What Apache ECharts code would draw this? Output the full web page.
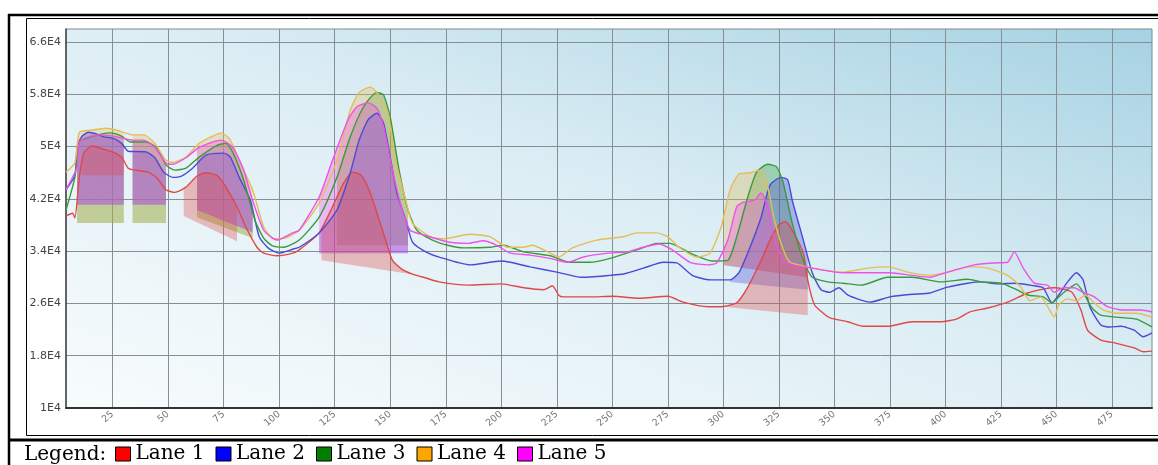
<!DOCTYPE html>
<html>
<head>
<meta charset="utf-8">
<script src="https://cdn.jsdelivr.net/npm/echarts@6/dist/echarts.min.js"></script>
<style>
html, body { margin: 0; padding: 0; background: #fff; }
#box { width: 1158px; height: 465px; }
</style>
</head>
<body>
<div id="box"></div>
<script>
var lanes = ['Lane 1', 'Lane 2', 'Lane 3', 'Lane 4', 'Lane 5'];
var lineColors = ['#e04848', '#4a4ad6', '#3a9a3a', '#e6bc58', '#ee52e6'];
var legendColors = ['#ff0000', '#0000ff', '#008000', '#ffa500', '#ff00ff'];

var xTicks = [25, 50, 75, 100, 125, 150, 175, 200, 225, 250, 275, 300, 325, 350, 375, 400, 425, 450, 475];
var yTicks = [10000, 18000, 26000, 34000, 42000, 50000, 58000, 66000];

var lane1 = [[4,39400],[7,39800],[8,39100],[10,45300],[12,49000],[16,50100],[21,49600],[25,49200],[29,48400],[32,46700],[35,46400],[41,46100],[45,45200],[49,43400],[53,43000],[58,43800],[63,45500],[67,46000],[72,45600],[76,43800],[81,40800],[85,37700],[90,34600],[93,33700],[99,33300],[106,33700],[109,34200],[118,36800],[124,40800],[129,44400],[133,46100],[137,45600],[141,42900],[145,38800],[148,35600],[151,32600],[155,31300],[160,30500],[166,29900],[172,29300],[185,28800],[200,29000],[210,28400],[219,28100],[223,28700],[226,27200],[228,27000],[240,27000],[250,27100],[262,26800],[275,27100],[282,26200],[293,25500],[299,25500],[306,26100],[311,28500],[317,32600],[321,35700],[325,38000],[328,38500],[331,37200],[336,33700],[338,29500],[341,25800],[345,24500],[348,23800],[356,23200],[363,22500],[374,22500],[385,23200],[398,23200],[405,23600],[411,24700],[419,25300],[428,26200],[437,27600],[444,28200],[449,28400],[453,28200],[457,27700],[461,25000],[464,21900],[470,20400],[477,19900],[485,19200],[489,18600],[493,18700]];

var lane2 = [[4,43400],[8,45600],[9,49900],[11,51500],[14,52200],[18,51900],[21,51500],[25,51300],[29,50500],[32,49300],[40,49200],[44,48300],[48,46100],[52,45300],[56,45500],[61,46700],[67,48700],[75,49000],[78,48400],[82,45300],[87,41800],[91,36200],[95,34500],[100,33700],[106,34300],[109,34600],[118,36800],[126,40300],[132,46000],[136,51000],[140,54100],[144,55100],[147,53600],[150,48400],[153,42900],[157,38800],[160,35400],[166,33900],[172,33100],[186,31900],[200,32500],[204,32300],[213,31600],[225,30800],[236,30000],[249,30300],[255,30500],[264,31400],[273,32300],[279,32200],[286,30300],[294,29600],[303,29600],[307,30700],[312,34600],[317,39200],[321,44100],[326,45300],[329,44900],[331,41800],[336,35700],[340,30700],[344,28100],[348,27700],[352,28400],[356,27300],[362,26500],[366,26200],[375,27000],[385,27400],[393,27600],[401,28500],[410,29100],[416,29300],[423,29000],[431,29100],[440,28700],[444,28400],[448,26100],[451,27300],[455,29300],[459,30700],[462,29600],[465,25500],[470,22700],[474,22400],[479,22500],[485,21900],[489,20900],[493,21500]];

var lane3 = [[4,40300],[8,45300],[10,50700],[15,51500],[24,52100],[29,51600],[33,50700],[40,50700],[45,49800],[49,47200],[53,46400],[58,46700],[64,48400],[72,50200],[76,50500],[79,49200],[84,44900],[89,38800],[93,36000],[97,34800],[102,34600],[109,35700],[118,39200],[126,45300],[132,51500],[138,56100],[144,58300],[147,57900],[150,54500],[154,46400],[158,40300],[162,37200],[169,35700],[176,34900],[183,34500],[195,34600],[201,34900],[210,33900],[222,33300],[231,32300],[240,32300],[249,32900],[261,34200],[270,35200],[276,35200],[285,33700],[295,32500],[302,32600],[306,36200],[311,42300],[315,46100],[320,47300],[324,46900],[327,44400],[331,38300],[336,32600],[340,30000],[347,29300],[354,29100],[362,28800],[374,30000],[385,30000],[398,29300],[410,29700],[416,29300],[425,29100],[432,28100],[437,27300],[444,27000],[448,26100],[452,27300],[456,28400],[459,29000],[462,27700],[466,25300],[470,24200],[477,23900],[486,23600],[493,22400]];

var lane4 = [[4,46100],[8,47500],[10,52200],[15,52500],[22,52800],[27,52500],[34,51800],[39,51800],[44,50500],[49,47900],[52,47600],[58,48400],[64,50500],[70,51600],[74,52100],[78,51000],[82,47900],[88,43400],[93,37700],[97,36000],[101,35900],[109,37200],[118,41400],[126,47900],[132,55600],[136,58300],[141,59100],[144,58300],[149,55100],[152,48400],[157,41800],[160,38300],[168,36200],[174,35900],[186,36600],[195,36200],[203,34600],[210,34600],[214,34900],[222,33700],[226,33100],[232,34500],[243,35700],[255,36200],[261,36800],[270,36800],[275,36200],[280,34600],[288,33100],[294,33700],[299,37700],[303,43400],[307,45800],[312,46000],[317,46400],[320,43800],[323,38800],[327,34200],[330,32300],[338,31600],[345,31100],[354,30800],[365,31400],[374,31600],[383,30800],[393,30300],[401,30800],[411,31600],[419,31400],[428,30300],[434,28500],[438,26400],[443,27000],[446,25500],[449,23900],[451,25800],[455,26700],[459,26400],[463,27300],[467,26100],[471,25000],[477,24500],[486,24500],[493,23900]];

var lane5 = [[4,43400],[9,46900],[10,50700],[14,51500],[19,51800],[27,51500],[34,51000],[39,51000],[44,49900],[49,47500],[52,47300],[58,48300],[64,49900],[70,50700],[74,51000],[79,49900],[84,46400],[88,41800],[93,37200],[97,36000],[99,35700],[106,36800],[109,37200],[118,42300],[124,47900],[131,54100],[135,56100],[140,56700],[144,55900],[147,53000],[151,46400],[155,40800],[159,37200],[165,36500],[176,35400],[185,35200],[192,35600],[198,34900],[204,33700],[213,33400],[222,32900],[230,32300],[237,33100],[248,33700],[257,33900],[264,34600],[271,35100],[277,34200],[285,32300],[293,31900],[297,32200],[302,35700],[306,40800],[309,41500],[314,41800],[317,42900],[320,40800],[323,35700],[327,32600],[331,31900],[340,31400],[350,30800],[356,30700],[366,30700],[375,30700],[385,30300],[393,30000],[401,30800],[413,31900],[422,32200],[428,32300],[431,33900],[435,31400],[440,29100],[446,28800],[449,27700],[453,28400],[458,28400],[462,27700],[467,27000],[473,25500],[480,25000],[488,25000],[493,24700]];

var laneData = [lane1, lane2, lane3, lane4, lane5];

// shaded peak areas: [lane, xStart, xEnd, baseStart, baseEnd]
var peaks = [
  [2, 9, 30, 38300, 38300], [3, 9, 30, 38300, 38300],
  [1, 9, 30, 41100, 41100], [4, 9, 30, 41100, 41100],
  [0, 11, 30, 45600, 45600],
  [2, 34, 49, 38300, 38300], [3, 34, 49, 38300, 38300],
  [1, 34, 49, 41100, 41100], [4, 34, 49, 41100, 41100],
  [2, 63, 88, 39200, 36000], [3, 63, 88, 39200, 36000],
  [1, 63, 88, 40300, 36900], [4, 63, 88, 40300, 36900],
  [0, 57, 81, 39400, 35500],
  [2, 126, 158, 34900, 34900], [3, 126, 158, 34900, 34900],
  [1, 118, 158, 33700, 33700], [4, 118, 158, 33700, 33700],
  [0, 119, 159, 32600, 30500],
  [2, 300, 338, 31900, 30000], [3, 300, 338, 31900, 30000],
  [1, 303, 338, 29300, 28100], [4, 300, 338, 31900, 30000],
  [0, 300, 338, 25500, 24200]
];

function valueAt(pts, x) {
  for (var i = 1; i < pts.length; i++) {
    if (pts[i][0] >= x) {
      var a = pts[i - 1], b = pts[i];
      return a[1] + (b[1] - a[1]) * (x - a[0]) / (b[0] - a[0]);
    }
  }
  return pts[pts.length - 1][1];
}

function renderPeak(params, api) {
  var p = peaks[api.value(2)];
  var pts = laneData[p[0]];
  var poly = [api.coord([p[1], valueAt(pts, p[1])])];
  pts.forEach(function (d) {
    if (d[0] > p[1] && d[0] < p[2]) poly.push(api.coord(d));
  });
  poly.push(api.coord([p[2], valueAt(pts, p[2])]));
  poly.push(api.coord([p[2], p[4]]));
  poly.push(api.coord([p[1], p[3]]));
  return {
    type: 'polygon',
    shape: { points: poly },
    style: { fill: lineColors[p[0]], opacity: 0.34 }
  };
}

var chart = echarts.init(document.getElementById('box'));

var series = [{
  type: 'custom',
  name: 'peaks',
  silent: true,
  z: 2,
  encode: { x: 0, y: 1 },
  data: peaks.map(function (p, i) { return [p[1], p[3], i]; }),
  renderItem: renderPeak
}];
laneData.forEach(function (d, i) {
  series.push({
    type: 'line',
    name: lanes[i],
    data: d,
    z: 3,
    symbol: 'none',
    smooth: 0.2,
    lineStyle: { color: lineColors[i], width: 1.4 },
    itemStyle: { color: lineColors[i] }
  });
});

var option = {
  animation: false,
  backgroundColor: '#fff',
  grid: {
    left: 66, top: 29, right: 6, bottom: 57,
    show: true,
    borderColor: '#7d8a90',
    borderWidth: 1,
    backgroundColor: {
      type: 'linear', x: 0, y: 1, x2: 0.22, y2: -0.78,
      colorStops: [
        { offset: 0, color: '#f8fcfd' },
        { offset: 0.55, color: '#dbedf4' },
        { offset: 1, color: '#a6d2e3' }
      ]
    }
  },
  legend: {
    left: 115, top: 444, padding: 0,
    icon: 'rect',
    itemWidth: 15, itemHeight: 14, itemGap: 11,
    textStyle: { fontFamily: 'DejaVu Serif', fontSize: 20, color: '#000' },
    data: lanes.map(function (n, i) {
      return { name: n, itemStyle: { color: legendColors[i], borderColor: '#000', borderWidth: 1 } };
    })
  },
  xAxis: {
    type: 'value', min: 4, max: 493,
    axisLine: { lineStyle: { color: '#333', width: 2 } },
    axisTick: { show: false, customValues: xTicks },
    axisLabel: {
      customValues: xTicks, rotate: 40, margin: 5,
      color: '#777', fontSize: 9.5, fontFamily: 'DejaVu Sans'
    },
    splitLine: { show: true, lineStyle: { color: '#868f94', width: 1 } }
  },
  yAxis: {
    type: 'value', min: 10000, max: 68000,
    axisLine: { show: true, lineStyle: { color: '#444', width: 1.5 } },
    axisTick: { show: false, customValues: yTicks },
    axisLabel: {
      customValues: yTicks, margin: 5,
      color: '#444', fontSize: 11, fontFamily: 'DejaVu Sans',
      formatter: function (v) { return +(v / 10000).toFixed(1) + 'E4'; }
    },
    splitLine: { show: true, lineStyle: { color: '#868f94', width: 1 } }
  },
  graphic: [
    { type: 'line', shape: { x1: 8, y1: 15, x2: 1158, y2: 15 }, style: { stroke: '#000', lineWidth: 2.5 } },
    { type: 'line', shape: { x1: 9, y1: 14, x2: 9, y2: 465 }, style: { stroke: '#000', lineWidth: 2.5 } },
    { type: 'rect', shape: { x: 26.5, y: 18.5, width: 1200, height: 417 }, style: { fill: 'none', stroke: '#000', lineWidth: 1 } },
    { type: 'line', shape: { x1: 8, y1: 440, x2: 1158, y2: 440 }, style: { stroke: '#000', lineWidth: 3 } },
    { type: 'text', left: 24, top: 445, style: { text: 'Legend:', font: '20px "DejaVu Serif"', fill: '#000' } }
  ],
  series: series
};

chart.setOption(option);
</script>
</body>
</html>
